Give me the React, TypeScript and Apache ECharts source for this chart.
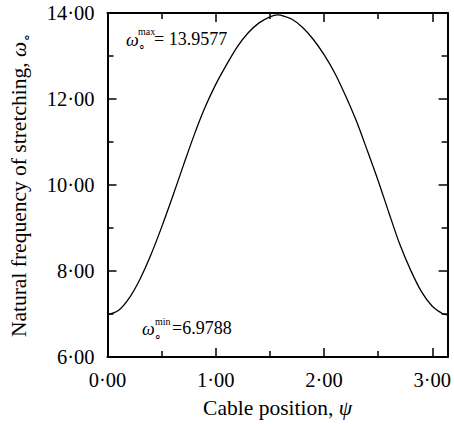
import React, { useEffect, useRef } from "react";
import * as echarts from "echarts";

// Cable position psi (x) and natural frequency of stretching omega (y)
const psi = [
  0.0, 0.1, 0.2, 0.3, 0.4, 0.5, 0.6, 0.7, 0.8, 0.9, 1.0, 1.1, 1.2, 1.3, 1.4, 1.5, 1.5708,
  1.6, 1.7, 1.8, 1.9, 2.0, 2.1, 2.2, 2.3, 2.4, 2.5, 2.6, 2.7, 2.8, 2.9, 3.0, 3.1, 3.1416,
];
const omega = [
  6.98, 7.08, 7.37, 7.81, 8.37, 9.02, 9.72, 10.45, 11.16, 11.8, 12.34, 12.8, 13.22, 13.54, 13.77, 13.91, 13.958,
  13.95, 13.86, 13.67, 13.39, 13.03, 12.6, 12.07, 11.48, 10.8, 10.1, 9.35, 8.62, 8.02, 7.52, 7.18, 7.0, 6.979,
];
const xTickValues = [0, 1, 2, 3];
const yTickValues = [6, 8, 10, 12, 14];
const xRange = [0, 3.1416];
const yRange = [6, 14];
const maxLabel = "= 13.9577";
const minLabel = "=6.9788";

const FONT = "Liberation Serif";
const fmt = (v: number) => v.toFixed(2).replace(".", "\u00b7");

export default function App() {
  const ref = useRef<HTMLDivElement>(null);
  useEffect(() => {
    if (!ref.current) return;
    const chart = echarts.init(ref.current, null, { renderer: "svg" });
    const tickStyle = { show: true, inside: true, length: 9, lineStyle: { color: "#000", width: 1.5 } };
    const minorStyle = { show: true, splitNumber: 2, length: 6, lineStyle: { color: "#000", width: 1.5 } };
    const lineStyle = { show: true, onZero: false, lineStyle: { color: "#000", width: 2 } };
    const baseAxis = {
      type: "value" as const,
      splitLine: { show: false },
      minorSplitLine: { show: false },
      axisLine: lineStyle,
      axisTick: tickStyle,
      minorTick: minorStyle,
      interval: 1,
    };
    const txt = (text: string, left: number, top: number, size: number, italic = false) => ({
      type: "text",
      left,
      top,
      style: { text, fill: "#000", fontFamily: FONT, fontSize: size, fontStyle: italic ? "italic" : "normal" },
    });
    chart.setOption({
      animation: false,
      backgroundColor: "#fff",
      grid: { left: 106, right: 4, top: 13, bottom: 65 },
      xAxis: [
        {
          ...baseAxis,
          min: xRange[0],
          max: xRange[1],
          interval: 1,
          axisLabel: {
            show: true,
            margin: 12,
            fontFamily: FONT,
            fontSize: 20.5,
            color: "#000",
            showMaxLabel: false,
            formatter: (v: number) => (xTickValues.includes(v) ? fmt(v) : ""),
          },
          name: "Cable position, {w|\u03c8}",
          nameLocation: "middle",
          nameGap: 40,
          nameTextStyle: {
            fontFamily: FONT,
            fontSize: 21.5,
            color: "#000",
            rich: { w: { fontFamily: FONT, fontSize: 21.5, fontStyle: "italic", color: "#000" } },
          },
        },
        {
          ...baseAxis,
          position: "top",
          min: xRange[0],
          max: xRange[1],
          interval: 1,
          axisLabel: { show: false },
        },
      ],
      yAxis: [
        {
          ...baseAxis,
          min: yRange[0],
          max: yRange[1],
          interval: 2,
          axisLabel: {
            show: true,
            margin: 13,
            fontFamily: FONT,
            fontSize: 20.5,
            color: "#000",
            formatter: (v: number) => (yTickValues.includes(v) ? fmt(v) : ""),
          },
          name: "Natural frequency of stretching, {w|\u03c9}{s|\u2218}",
          nameLocation: "middle",
          nameRotate: 90,
          nameGap: 74,
          nameTextStyle: {
            fontFamily: FONT,
            fontSize: 21.5,
            color: "#000",
            rich: {
              w: { fontFamily: FONT, fontSize: 21.5, fontStyle: "italic", color: "#000" },
              s: { fontFamily: FONT, fontSize: 14, color: "#000", verticalAlign: "bottom", lineHeight: 29 },
            },
          },
        },
        {
          ...baseAxis,
          position: "right",
          min: yRange[0],
          max: yRange[1],
          interval: 2,
          axisLabel: { show: false },
        },
      ],
      series: [
        {
          type: "line",
          data: psi.map((p, i) => [p, omega[i]]),
          smooth: 0.3,
          showSymbol: false,
          symbol: "none",
          lineStyle: { color: "#000", width: 1.3 },
          silent: true,
        },
      ],
      graphic: [
        txt("\u03c9", 126, 31, 18, true),
        txt("max", 138, 26, 10),
        txt("\u2218", 138, 41, 12),
        txt(maxLabel, 154, 30, 18),
        txt("\u03c9", 142, 320, 18, true),
        txt("min", 155, 316, 10),
        txt("\u2218", 154, 331, 12),
        txt(minLabel, 172, 319, 18),
      ],
    });
    return () => chart.dispose();
  }, []);
  return <div ref={ref} style={{ position: "fixed", left: 0, top: 0, width: 454, height: 424 }} />;
}
